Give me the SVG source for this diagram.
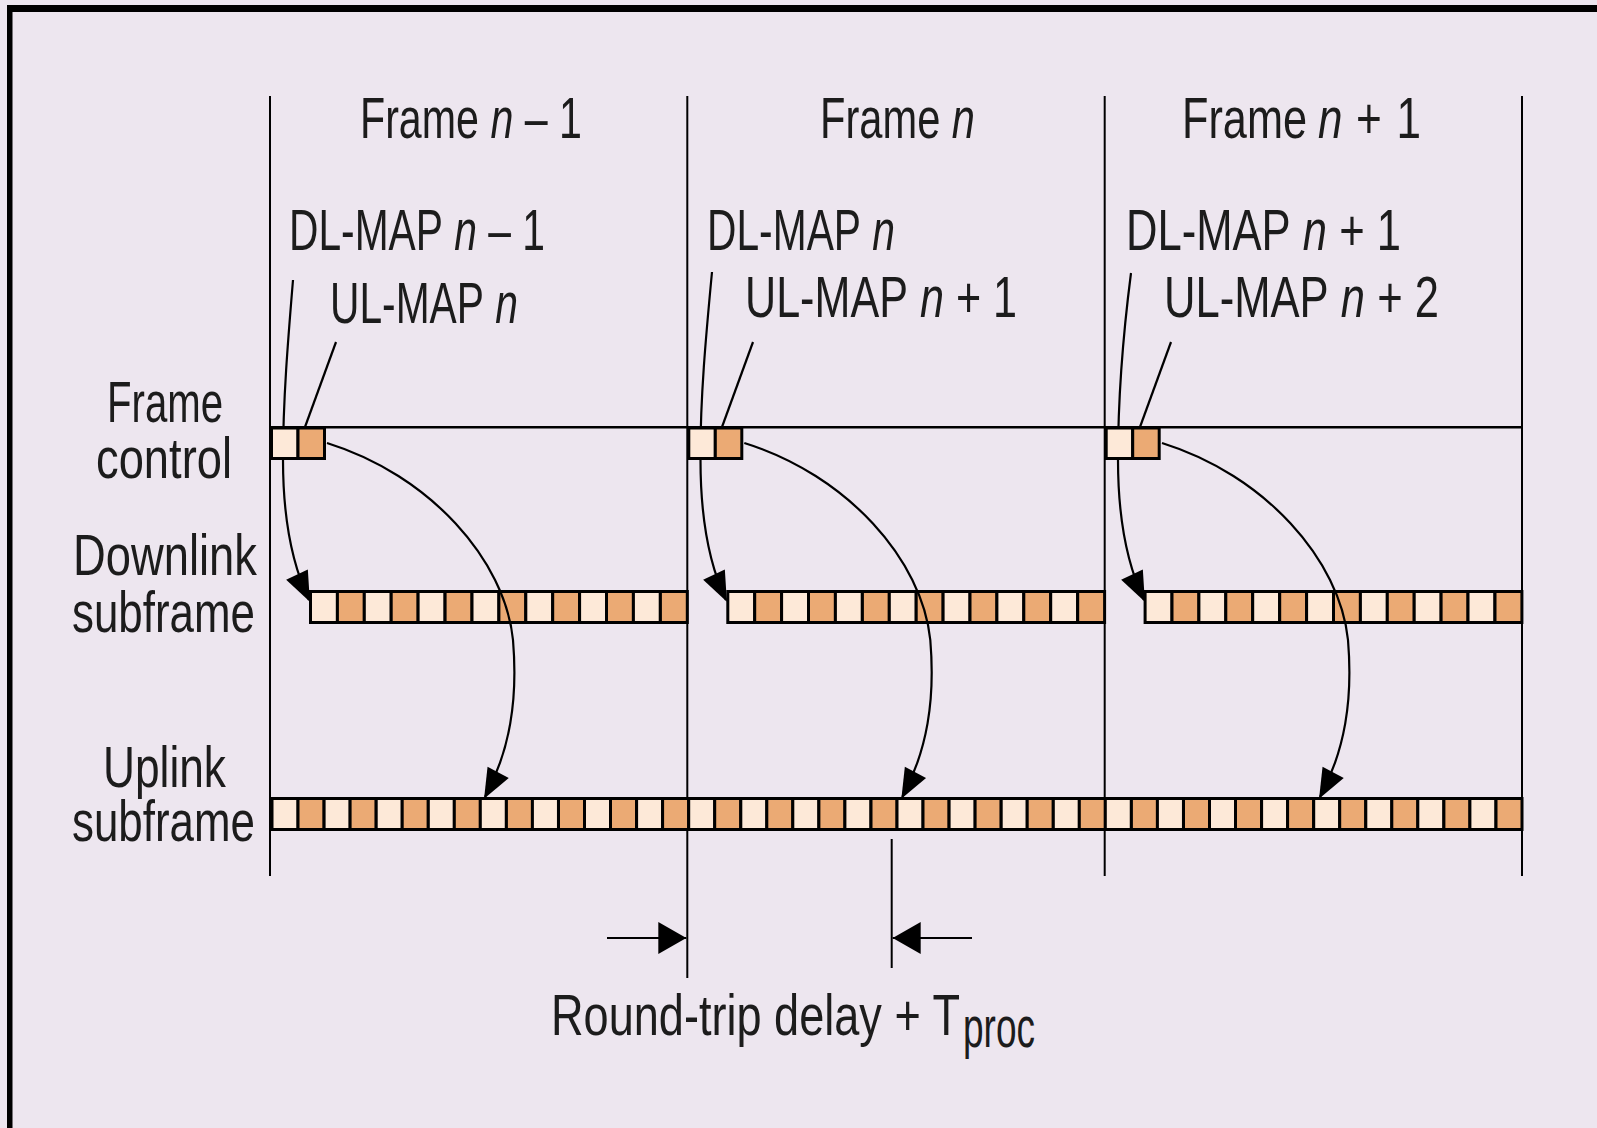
<svg xmlns="http://www.w3.org/2000/svg" width="1597" height="1128" viewBox="0 0 1597 1128">
<style>
.bg{fill:#EDE6EF}
.t{font-family:"Liberation Sans Narrow","Liberation Sans",Arial,sans-serif;font-size:50px;fill:#1c1c1c}
.m{font-size:42px}
.r{font-size:44px}
.i{font-style:italic}
.fl{stroke:#000;stroke-width:2;fill:none}
.c{stroke:#000;stroke-width:2.2;fill:none}
.lt{fill:#FDE9D8;stroke:#000;stroke-width:3}
.dk{fill:#EBAA74;stroke:#000;stroke-width:3}
</style>
<defs>
<marker id="ah" markerUnits="userSpaceOnUse" markerWidth="30" markerHeight="24" refX="28" refY="12" orient="auto" overflow="visible">
<path d="M0,0 L30,12 L0,24 Z" fill="#000"/>
</marker>
<marker id="dh" markerUnits="userSpaceOnUse" markerWidth="28" markerHeight="32" refX="28" refY="16" orient="auto" overflow="visible">
<path d="M0,0 L28,16 L0,32 Z" fill="#000"/>
</marker>
</defs>
<rect class="bg" x="0" y="0" width="1597" height="1128"/>
<g id="border">
<rect x="7" y="5" width="1590" height="7" fill="#000"/>
<rect x="7" y="5" width="5.5" height="1123" fill="#000"/>
</g>
<g id="frame-lines">
<line class="fl" x1="270" y1="96" x2="270" y2="876"/>
<line class="fl" x1="687.3" y1="96" x2="687.3" y2="978"/>
<line class="fl" x1="1104.7" y1="96" x2="1104.7" y2="876"/>
<line class="fl" x1="1522" y1="96" x2="1522" y2="876"/>
<line x1="270" y1="427.3" x2="1522" y2="427.3" stroke="#000" stroke-width="2.6"/>
<line class="fl" x1="891.7" y1="839" x2="891.7" y2="968"/>
</g>
<g id="pointers">
<path class="c" d="M293,280 C288,340 283,400 283,460 C283,510 290,560 309,600" marker-end="url(#ah)"/>
<path class="c" d="M712,272 C706,335 700,400 700.5,460 C700.5,510 707,560 726,600" marker-end="url(#ah)"/>
<path class="c" d="M1131,273 C1123,335 1118,400 1118,460 C1118,510 1125,560 1144,600" marker-end="url(#ah)"/>
<line class="c" x1="336" y1="342" x2="305" y2="427"/>
<line class="c" x1="753" y1="342" x2="722" y2="427"/>
<line class="c" x1="1171" y1="342" x2="1140" y2="427"/>
</g>
<g id="frame-control">
<rect class="lt" x="271.5" y="428" width="26.5" height="30.5"/>
<rect class="dk" x="298" y="428" width="26.5" height="30.5"/>
<rect class="lt" x="688.8" y="428" width="26.5" height="30.5"/>
<rect class="dk" x="715.3" y="428" width="26.5" height="30.5"/>
<rect class="lt" x="1106.2" y="428" width="26.5" height="30.5"/>
<rect class="dk" x="1132.7" y="428" width="26.5" height="30.5"/>
</g>
<g id="downlink">
<rect class="lt" x="310.5" y="591.5" width="26.9" height="31"/>
<rect class="dk" x="337.4" y="591.5" width="26.9" height="31"/>
<rect class="lt" x="364.3" y="591.5" width="26.9" height="31"/>
<rect class="dk" x="391.2" y="591.5" width="26.9" height="31"/>
<rect class="lt" x="418.1" y="591.5" width="26.9" height="31"/>
<rect class="dk" x="445.1" y="591.5" width="26.9" height="31"/>
<rect class="lt" x="472" y="591.5" width="26.9" height="31"/>
<rect class="dk" x="498.9" y="591.5" width="26.9" height="31"/>
<rect class="lt" x="525.8" y="591.5" width="26.9" height="31"/>
<rect class="dk" x="552.7" y="591.5" width="26.9" height="31"/>
<rect class="lt" x="579.6" y="591.5" width="26.9" height="31"/>
<rect class="dk" x="606.5" y="591.5" width="26.9" height="31"/>
<rect class="lt" x="633.4" y="591.5" width="26.9" height="31"/>
<rect class="dk" x="660.4" y="591.5" width="26.9" height="31"/>
<rect class="lt" x="727.8" y="591.5" width="26.9" height="31"/>
<rect class="dk" x="754.7" y="591.5" width="26.9" height="31"/>
<rect class="lt" x="781.6" y="591.5" width="26.9" height="31"/>
<rect class="dk" x="808.5" y="591.5" width="26.9" height="31"/>
<rect class="lt" x="835.4" y="591.5" width="26.9" height="31"/>
<rect class="dk" x="862.4" y="591.5" width="26.9" height="31"/>
<rect class="lt" x="889.3" y="591.5" width="26.9" height="31"/>
<rect class="dk" x="916.2" y="591.5" width="26.9" height="31"/>
<rect class="lt" x="943.1" y="591.5" width="26.9" height="31"/>
<rect class="dk" x="970" y="591.5" width="26.9" height="31"/>
<rect class="lt" x="996.9" y="591.5" width="26.9" height="31"/>
<rect class="dk" x="1023.8" y="591.5" width="26.9" height="31"/>
<rect class="lt" x="1050.7" y="591.5" width="26.9" height="31"/>
<rect class="dk" x="1077.7" y="591.5" width="26.9" height="31"/>
<rect class="lt" x="1145.1" y="591.5" width="26.9" height="31"/>
<rect class="dk" x="1172" y="591.5" width="26.9" height="31"/>
<rect class="lt" x="1198.9" y="591.5" width="26.9" height="31"/>
<rect class="dk" x="1225.8" y="591.5" width="26.9" height="31"/>
<rect class="lt" x="1252.7" y="591.5" width="26.9" height="31"/>
<rect class="dk" x="1279.7" y="591.5" width="26.9" height="31"/>
<rect class="lt" x="1306.6" y="591.5" width="26.9" height="31"/>
<rect class="dk" x="1333.5" y="591.5" width="26.9" height="31"/>
<rect class="lt" x="1360.4" y="591.5" width="26.9" height="31"/>
<rect class="dk" x="1387.3" y="591.5" width="26.9" height="31"/>
<rect class="lt" x="1414.2" y="591.5" width="26.9" height="31"/>
<rect class="dk" x="1441.1" y="591.5" width="26.9" height="31"/>
<rect class="lt" x="1468" y="591.5" width="26.9" height="31"/>
<rect class="dk" x="1495" y="591.5" width="26.9" height="31"/>
</g>
<g id="uplink">
<rect class="lt" x="272" y="798.5" width="26.05" height="31"/>
<rect class="dk" x="298" y="798.5" width="26.05" height="31"/>
<rect class="lt" x="324.1" y="798.5" width="26.05" height="31"/>
<rect class="dk" x="350.1" y="798.5" width="26.05" height="31"/>
<rect class="lt" x="376.2" y="798.5" width="26.05" height="31"/>
<rect class="dk" x="402.2" y="798.5" width="26.05" height="31"/>
<rect class="lt" x="428.3" y="798.5" width="26.05" height="31"/>
<rect class="dk" x="454.3" y="798.5" width="26.05" height="31"/>
<rect class="lt" x="480.3" y="798.5" width="26.05" height="31"/>
<rect class="dk" x="506.4" y="798.5" width="26.05" height="31"/>
<rect class="lt" x="532.4" y="798.5" width="26.05" height="31"/>
<rect class="dk" x="558.5" y="798.5" width="26.05" height="31"/>
<rect class="lt" x="584.5" y="798.5" width="26.05" height="31"/>
<rect class="dk" x="610.5" y="798.5" width="26.05" height="31"/>
<rect class="lt" x="636.6" y="798.5" width="26.05" height="31"/>
<rect class="dk" x="662.6" y="798.5" width="26.05" height="31"/>
<rect class="lt" x="688.7" y="798.5" width="26.05" height="31"/>
<rect class="dk" x="714.7" y="798.5" width="26.05" height="31"/>
<rect class="lt" x="740.8" y="798.5" width="26.05" height="31"/>
<rect class="dk" x="766.8" y="798.5" width="26.05" height="31"/>
<rect class="lt" x="792.8" y="798.5" width="26.05" height="31"/>
<rect class="dk" x="818.9" y="798.5" width="26.05" height="31"/>
<rect class="lt" x="844.9" y="798.5" width="26.05" height="31"/>
<rect class="dk" x="871" y="798.5" width="26.05" height="31"/>
<rect class="lt" x="897" y="798.5" width="26.05" height="31"/>
<rect class="dk" x="923" y="798.5" width="26.05" height="31"/>
<rect class="lt" x="949.1" y="798.5" width="26.05" height="31"/>
<rect class="dk" x="975.1" y="798.5" width="26.05" height="31"/>
<rect class="lt" x="1001.2" y="798.5" width="26.05" height="31"/>
<rect class="dk" x="1027.2" y="798.5" width="26.05" height="31"/>
<rect class="lt" x="1053.3" y="798.5" width="26.05" height="31"/>
<rect class="dk" x="1079.3" y="798.5" width="26.05" height="31"/>
<rect class="lt" x="1105.3" y="798.5" width="26.05" height="31"/>
<rect class="dk" x="1131.4" y="798.5" width="26.05" height="31"/>
<rect class="lt" x="1157.4" y="798.5" width="26.05" height="31"/>
<rect class="dk" x="1183.5" y="798.5" width="26.05" height="31"/>
<rect class="lt" x="1209.5" y="798.5" width="26.05" height="31"/>
<rect class="dk" x="1235.5" y="798.5" width="26.05" height="31"/>
<rect class="lt" x="1261.6" y="798.5" width="26.05" height="31"/>
<rect class="dk" x="1287.6" y="798.5" width="26.05" height="31"/>
<rect class="lt" x="1313.7" y="798.5" width="26.05" height="31"/>
<rect class="dk" x="1339.7" y="798.5" width="26.05" height="31"/>
<rect class="lt" x="1365.8" y="798.5" width="26.05" height="31"/>
<rect class="dk" x="1391.8" y="798.5" width="26.05" height="31"/>
<rect class="lt" x="1417.8" y="798.5" width="26.05" height="31"/>
<rect class="dk" x="1443.9" y="798.5" width="26.05" height="31"/>
<rect class="lt" x="1469.9" y="798.5" width="26.05" height="31"/>
<rect class="dk" x="1496" y="798.5" width="26" height="31"/>
</g>
<g id="connectors">
<path class="c" d="M327,443 C430,475 505,560 513,640 C518,700 510,750 485,797" marker-end="url(#ah)"/>
<path class="c" d="M744.3,443 C847.3,475 922.3,560 930.3,640 C935.3,700 927.3,750 902.3,797" marker-end="url(#ah)"/>
<path class="c" d="M1162,443 C1265,475 1340,560 1348,640 C1353,700 1345,750 1320,797" marker-end="url(#ah)"/>
<line class="c" x1="607" y1="938" x2="686.3" y2="938" marker-end="url(#dh)"/>
<line class="c" x1="972" y1="938" x2="892.7" y2="938" marker-end="url(#dh)"/>
</g>
<g id="label-frame-n-1">
<text class="t r" x="360" y="138" textLength="119" lengthAdjust="spacingAndGlyphs" transform="matrix(1,0,0,1.318,0,-43.88)">Frame</text>
<g transform="matrix(1,0,0,1.16,0,-22.08)">
<text class="t i" x="490.4" y="138" textLength="22.9" lengthAdjust="spacingAndGlyphs">n</text>
<text class="t" x="524.7" y="138" textLength="22.9" lengthAdjust="spacingAndGlyphs">–</text>
<text class="t" x="559" y="138" textLength="22.9" lengthAdjust="spacingAndGlyphs">1</text>
</g>
</g>
<g id="label-frame-n">
<text class="t r" x="820" y="138" textLength="120.3" lengthAdjust="spacingAndGlyphs" transform="matrix(1,0,0,1.318,0,-43.88)">Frame</text>
<text class="t i" x="951.8" y="138" textLength="23.1" lengthAdjust="spacingAndGlyphs" transform="matrix(1,0,0,1.16,0,-22.08)">n</text>
</g>
<g id="label-frame-n+1">
<text class="t r" x="1182" y="138" textLength="125" lengthAdjust="spacingAndGlyphs" transform="matrix(1,0,0,1.318,0,-43.88)">Frame</text>
<g transform="matrix(1,0,0,1.16,0,-22.08)">
<text class="t i" x="1318" y="138" textLength="24.5" lengthAdjust="spacingAndGlyphs">n</text>
<text class="t" x="1356" y="138" textLength="25.8" lengthAdjust="spacingAndGlyphs">+</text>
<text class="t" x="1396.5" y="138" textLength="24.5" lengthAdjust="spacingAndGlyphs">1</text>
</g>
</g>
<g id="label-dlmap-n-1">
<text class="t m" x="289" y="250" textLength="154" lengthAdjust="spacingAndGlyphs" transform="matrix(1,0,0,1.381,0,-95.24)">DL-MAP</text>
<g transform="matrix(1,0,0,1.16,0,-40)">
<text class="t i" x="454.3" y="250" textLength="22.7" lengthAdjust="spacingAndGlyphs">n</text>
<text class="t" x="488.3" y="250" textLength="22.7" lengthAdjust="spacingAndGlyphs">–</text>
<text class="t" x="522.3" y="250" textLength="22.7" lengthAdjust="spacingAndGlyphs">1</text>
</g>
</g>
<g id="label-ulmap-n">
<text class="t m" x="330" y="323" textLength="154" lengthAdjust="spacingAndGlyphs" transform="matrix(1,0,0,1.381,0,-123.07)">UL-MAP</text>
<text class="t i" x="495.3" y="323" textLength="22.7" lengthAdjust="spacingAndGlyphs" transform="matrix(1,0,0,1.16,0,-51.68)">n</text>
</g>
<g id="label-dlmap-n">
<text class="t m" x="707" y="250" textLength="154" lengthAdjust="spacingAndGlyphs" transform="matrix(1,0,0,1.381,0,-95.24)">DL-MAP</text>
<text class="t i" x="872.3" y="250" textLength="22.7" lengthAdjust="spacingAndGlyphs" transform="matrix(1,0,0,1.16,0,-40)">n</text>
</g>
<g id="label-ulmap-n+1">
<text class="t m" x="745" y="317" textLength="162.9" lengthAdjust="spacingAndGlyphs" transform="matrix(1,0,0,1.381,0,-120.78)">UL-MAP</text>
<g transform="matrix(1,0,0,1.16,0,-50.72)">
<text class="t i" x="919.9" y="317" textLength="24" lengthAdjust="spacingAndGlyphs">n</text>
<text class="t" x="955.9" y="317" textLength="25.2" lengthAdjust="spacingAndGlyphs">+</text>
<text class="t" x="993" y="317" textLength="24" lengthAdjust="spacingAndGlyphs">1</text>
</g>
</g>
<g id="label-dlmap-n+1">
<text class="t m" x="1126" y="250" textLength="164.7" lengthAdjust="spacingAndGlyphs" transform="matrix(1,0,0,1.381,0,-95.24)">DL-MAP</text>
<g transform="matrix(1,0,0,1.16,0,-40)">
<text class="t i" x="1302.8" y="250" textLength="24.2" lengthAdjust="spacingAndGlyphs">n</text>
<text class="t" x="1339.2" y="250" textLength="25.5" lengthAdjust="spacingAndGlyphs">+</text>
<text class="t" x="1376.8" y="250" textLength="24.2" lengthAdjust="spacingAndGlyphs">1</text>
</g>
</g>
<g id="label-ulmap-n+2">
<text class="t m" x="1164" y="317" textLength="164.7" lengthAdjust="spacingAndGlyphs" transform="matrix(1,0,0,1.381,0,-120.78)">UL-MAP</text>
<g transform="matrix(1,0,0,1.16,0,-50.72)">
<text class="t i" x="1340.8" y="317" textLength="24.2" lengthAdjust="spacingAndGlyphs">n</text>
<text class="t" x="1377.2" y="317" textLength="25.5" lengthAdjust="spacingAndGlyphs">+</text>
<text class="t" x="1414.8" y="317" textLength="24.2" lengthAdjust="spacingAndGlyphs">2</text>
</g>
</g>
<g id="row-labels">
<text class="t r" x="107" y="422" textLength="116" lengthAdjust="spacingAndGlyphs" transform="matrix(1,0,0,1.318,0,-134.2)">Frame</text>
<text class="t r" x="96" y="478" textLength="136" lengthAdjust="spacingAndGlyphs" transform="matrix(1,0,0,1.318,0,-152)">control</text>
<text class="t r" x="73" y="575" textLength="184" lengthAdjust="spacingAndGlyphs" transform="matrix(1,0,0,1.318,0,-182.85)">Downlink</text>
<text class="t r" x="72" y="632" textLength="183" lengthAdjust="spacingAndGlyphs" transform="matrix(1,0,0,1.318,0,-200.98)">subframe</text>
<text class="t r" x="103" y="787" textLength="123" lengthAdjust="spacingAndGlyphs" transform="matrix(1,0,0,1.318,0,-250.27)">Uplink</text>
<text class="t r" x="72" y="841" textLength="183" lengthAdjust="spacingAndGlyphs" transform="matrix(1,0,0,1.318,0,-267.44)">subframe</text>
</g>
<g id="delay-label">
<text class="t" x="551" y="1035" textLength="409" lengthAdjust="spacingAndGlyphs" transform="matrix(1,0,0,1.16,0,-165.6)">Round-trip delay + T</text>
<text class="t" x="963" y="1047" font-size="42" textLength="72" lengthAdjust="spacingAndGlyphs" transform="matrix(1,0,0,1.16,0,-167.52)">proc</text>
</g>
</svg>
